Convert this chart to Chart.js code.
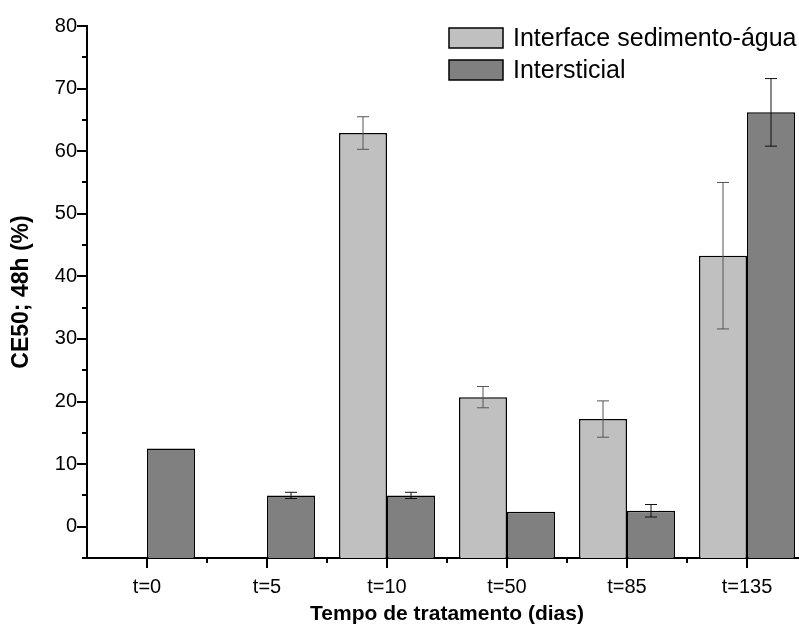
<!DOCTYPE html>
<html>
<head>
<meta charset="utf-8">
<script src="https://cdn.jsdelivr.net/npm/chart.js@4/dist/chart.umd.min.js"></script>
<style>
  html, body { margin: 0; padding: 0; background: #fff; overflow: hidden; }
  #wrap { width: 799px; height: 639px; overflow: hidden; }
</style>
</head>
<body>
<div id="wrap"><canvas id="chart" width="820" height="639"></canvas></div>
<script>
// data
const categories = ["t=0", "t=5", "t=10", "t=50", "t=85", "t=135"];
const interfaceValues = [null, null, 62.9, 20.7, 17.2, 43.3];
const interfaceErrors = [null, null, 2.6, 1.7, 2.9, 11.7];
const intersticialValues = [12.5, 5.0, 5.0, 2.4, 2.55, 66.2];
const intersticialErrors = [null, 0.5, 0.5, null, 1.0, 5.4];
const seriesNames = ["Interface sedimento-água", "Intersticial"];
const yTicks = [0, 10, 20, 30, 40, 50, 60, 70, 80];
const yMin = -5;
const yMax = 80;

const errorBars = {
  id: "errorBars",
  afterDatasetsDraw(chart) {
    const ctx = chart.ctx;
    const y = chart.scales.y;
    const sets = [interfaceErrors, intersticialErrors];
    const colors = ["#555", "#111"];
    ctx.save();
    sets.forEach((errs, di) => {
      const meta = chart.getDatasetMeta(di);
      meta.data.forEach((bar, i) => {
        const v = chart.data.datasets[di].data[i];
        const e = errs[i];
        if (v == null || e == null) return;
        const top = y.getPixelForValue(v + e);
        const bot = y.getPixelForValue(v - e);
        ctx.strokeStyle = colors[di];
        ctx.lineWidth = 1;
        ctx.beginPath();
        ctx.moveTo(bar.x, top); ctx.lineTo(bar.x, bot);
        ctx.moveTo(bar.x - 6, top); ctx.lineTo(bar.x + 6, top);
        ctx.moveTo(bar.x - 6, bot); ctx.lineTo(bar.x + 6, bot);
        ctx.stroke();
      });
    });
    ctx.restore();
  }
};

// major / minor ticks like the original plot
const axisTicks = {
  id: "axisTicks",
  afterDraw(chart) {
    const ctx = chart.ctx;
    const { x, y } = chart.scales;
    const left = chart.chartArea.left;
    const bottom = chart.chartArea.bottom;
    ctx.save();
    ctx.strokeStyle = "#000";
    ctx.lineWidth = 2;
    ctx.beginPath();
    for (let v = yMin; v <= yMax; v += 5) {
      const py = Math.round(y.getPixelForValue(v));
      const len = v % 10 === 0 ? 10 : 5;
      ctx.moveTo(left - len, py); ctx.lineTo(left, py);
    }
    categories.forEach((c, i) => {
      const px = Math.round(x.getPixelForValue(i));
      ctx.moveTo(px, bottom); ctx.lineTo(px, bottom + 10);
      if (i < categories.length - 1) {
        const pb = Math.round(x.getPixelForValue(i + 0.5));
        ctx.moveTo(pb, bottom); ctx.lineTo(pb, bottom + 5);
      }
    });
    ctx.stroke();
    ctx.restore();
  }
};

const boxLegend = {
  id: "boxLegend",
  afterDraw(chart) {
    const ctx = chart.ctx;
    ctx.save();
    ctx.font = "25px 'Liberation Sans', Arial, sans-serif";
    ctx.textBaseline = "middle";
    chart.data.datasets.forEach((ds, i) => {
      const top = 28 + i * 32;
      ctx.fillStyle = ds.backgroundColor;
      ctx.fillRect(449, top, 54, 20);
      ctx.strokeStyle = "#000";
      ctx.lineWidth = 1.5;
      ctx.strokeRect(449, top, 54, 20);
      ctx.fillStyle = "#000";
      ctx.fillText(ds.label, 513, top + 11);
    });
    ctx.restore();
  }
};

new Chart(document.getElementById("chart"), {
  type: "bar",
  data: {
    labels: categories,
    datasets: [
      {
        label: seriesNames[0],
        data: interfaceValues,
        base: yMin,
        backgroundColor: "#c0c0c0",
        borderColor: "#000",
        borderWidth: 1.5,
        categoryPercentage: 0.8,
        barPercentage: 1.0,
      },
      {
        label: seriesNames[1],
        data: intersticialValues,
        base: yMin,
        backgroundColor: "#808080",
        borderColor: "#000",
        borderWidth: 1.5,
        categoryPercentage: 0.8,
        barPercentage: 1.0,
      },
    ],
  },
  options: {
    responsive: false,
    animation: false,
    layout: { padding: { left: 0, top: 26, right: 13, bottom: 0 } },
    plugins: { legend: { display: false }, tooltip: { enabled: false } },
    scales: {
      x: {
        grid: { display: false, drawTicks: false },
        border: { display: true, color: "#000", width: 2 },
        ticks: {
          color: "#000",
          padding: 17,
          font: { family: "'Liberation Sans', Arial, sans-serif", size: 20 },
        },
        title: {
          display: true,
          text: "Tempo de tratamento (dias)",
          color: "#000",
          padding: { top: 0, bottom: 12 },
          font: { family: "'Liberation Sans', Arial, sans-serif", size: 21, weight: "bold" },
        },
        afterFit(scale) { scale.height = 81; },
      },
      y: {
        min: yMin,
        max: yMax,
        afterBuildTicks(scale) { scale.ticks = yTicks.map((v) => ({ value: v })); },
        grid: { display: false, drawTicks: false },
        border: { display: true, color: "#000", width: 2 },
        ticks: {
          color: "#000",
          padding: 10,
          font: { family: "'Liberation Sans', Arial, sans-serif", size: 20 },
        },
        title: {
          display: true,
          text: "CE50; 48h (%)",
          color: "#000",
          padding: { top: 8, bottom: 0 },
          font: { family: "'Liberation Sans', Arial, sans-serif", size: 23, weight: "bold" },
        },
        afterFit(scale) { scale.width = 87; },
      },
    },
  },
  plugins: [errorBars, axisTicks, boxLegend],
});
</script>
</body>
</html>
